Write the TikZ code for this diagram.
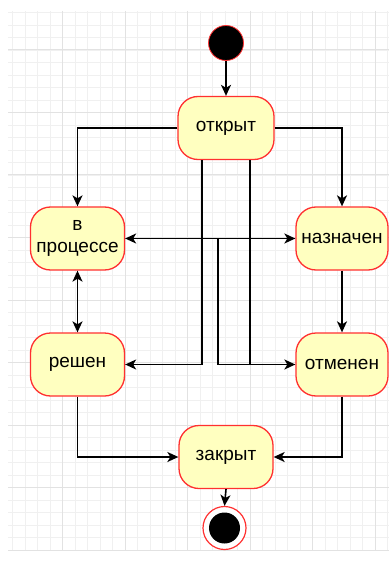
\documentclass[tikz,border=0pt]{standalone}
\usepackage{fontspec}
\setmainfont{Liberation Sans}
\usetikzlibrary{arrows.meta}

\definecolor{nodefill}{HTML}{FFFFC0}
\definecolor{noderim}{HTML}{FF3030}
\definecolor{gridminor}{HTML}{F0F0F0}
\definecolor{gridmajor}{HTML}{E2E2E2}

\tikzset{
    state/.style = {draw = noderim, fill = nodefill, line width = 1.3pt, rounded corners = 20pt,
                    minimum width = 94pt, minimum height = 63pt, inner sep = 2pt, align = center,
                    font = \fontsize{19}{22}\selectfont},
    tip/.style = {Stealth[length = 11pt, width = 10pt, inset = 3pt]},
    flow/.style = {black, line width = 1.6pt, -{Stealth[length = 11pt, width = 10pt, inset = 3pt]}},
    twoway/.style = {black, line width = 1.6pt, {Stealth[length = 11pt, width = 10pt, inset = 3pt]}-{Stealth[length = 11pt, width = 10pt, inset = 3pt]}},
    wire/.style = {black, line width = 1.6pt}
}

\begin{document}
\begin{tikzpicture}[x = 1pt, y = -1pt]
        \useasboundingbox (0, 0) rectangle (389, 561);

        % background grid
        \foreach \gx in {12.5, 25, ..., 387.5} {
            \draw[gridminor, line width = 0.8pt] (\gx, 11) -- (\gx, 551);
        }
        \foreach \gy in {12.5, 25, ..., 550} {
            \draw[gridminor, line width = 0.8pt] (8, \gy) -- (389, \gy);
        }
        \foreach \gx in {62.5, 125, ..., 375} {
            \draw[gridmajor, line width = 1pt] (\gx, 11) -- (\gx, 551);
        }
        \foreach \gy in {50, 112.5, ..., 550} {
            \draw[gridmajor, line width = 1pt] (8, \gy) -- (389, \gy);
        }

        % states
        \node[circle, fill = black, draw = noderim, line width = 0.8pt, minimum size = 35pt, inner sep = 0pt] (start) at (226, 43) {};
        \node[state, minimum width = 96pt] (open) at (226, 128) {открыт};
        \node[state] (inprogress) at (77.5, 238.5) {в\\процессе};
        \node[state, minimum width = 92pt] (assigned) at (342, 238.5) {назначен};
        \node[state] (resolved) at (77.5, 364.5) {решен};
        \node[state, minimum width = 92pt] (cancelled) at (342, 364.5) {отменен};
        \node[state] (closed) at (226, 457) {закрыт};
        \node[circle, draw = noderim, fill = white, line width = 1.2pt, minimum size = 43pt, inner sep = 0pt] (stop) at (224.5, 528) {};
        \node[circle, fill = black, minimum size = 31pt, inner sep = 0pt] (stopdot) at (224.5, 528) {};

        \coordinate (split) at (218, 238.5);

        % transitions
        \draw[flow] (start) -- (open);
        \draw[flow] (open.west) -| (inprogress.north);
        \draw[flow] (open.east) -| (assigned.north);
        \draw[flow] ([xshift = -24pt]open.south) |- (resolved.east);
        \draw[flow] ([xshift = 24pt]open.south) |- (cancelled.west);
        \draw[twoway] (inprogress.east) -- (assigned.west);
        \draw[wire] (split) |- (cancelled.west);
        \draw[twoway] (inprogress.south) -- (resolved.north);
        \draw[flow] (assigned.south) -- (cancelled.north);
        \draw[flow] (resolved.south) |- (closed.west);
        \draw[flow] (cancelled.south) |- (closed.east);
        \draw[flow] (closed.south) -- (stop.north);
    \end{tikzpicture}
\end{document}
